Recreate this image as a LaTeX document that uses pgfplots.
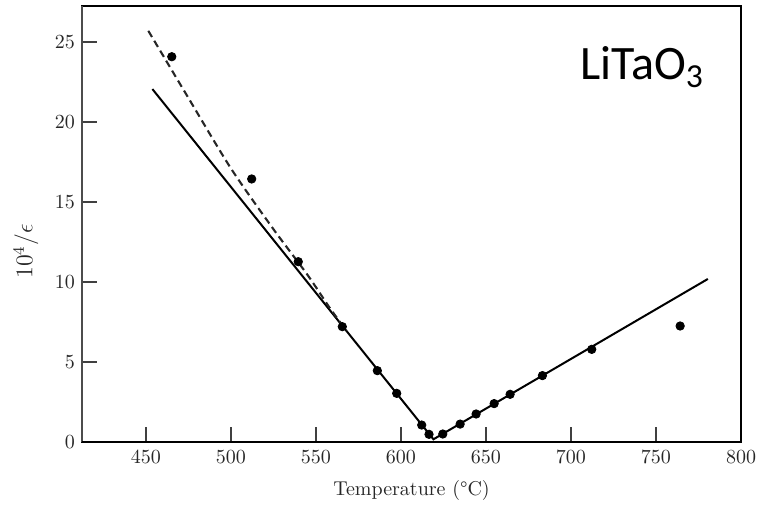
\documentclass[border=0pt]{standalone}
\usepackage{fontspec}
\newfontfamily\calibri{Carlito}
\usepackage{pgfplots}
\pgfplotsset{compat=1.18}

\begin{document}
\begin{tikzpicture}
\begin{axis}[
    scale only axis,
    width=329.5pt, height=218pt,
    xmin=412.4, xmax=800,
    ymin=0, ymax=27.25,
    xtick={450,500,...,800},
    ytick={0,5,...,25},
    tick align=inside,
    xtick pos=bottom, ytick pos=left,
    major tick length=7.5pt,
    tick style={black!75, line width=0.6pt},
    axis line style={line width=0.6pt},
    ticklabel style={font=\normalsize, black!85},
    xticklabel style={yshift=-1pt},
    xlabel={Temperature (°C)},
    xlabel style={font=\normalsize, black!85, at={(axis description cs:0.5,-0.112)}, anchor=center},
    ylabel={$10^4/\epsilon$},
    ylabel style={font=\fontsize{11.5}{13}\selectfont, black!85, at={(axis description cs:-0.085,0.437)}, anchor=center},
    clip=false,
]
% fitted lines
\addplot[black, line width=1pt] coordinates {(453.8,22.06) (619.1,0.17) (780.5,10.19)};
\addplot[black!85, line width=1.05pt, dash pattern=on 3.6pt off 2.2pt, smooth] coordinates {
    (451.4,25.7) (475,21.5) (500,17.1) (525,13.3) (545,10.45) (558,8.4) (568,6.95)};
% measured points
\addplot[only marks, mark=*, mark size=2.1pt, black] coordinates {
    (465.2,24.08) (512.2,16.44) (539.6,11.27) (565.5,7.21) (586.1,4.46)
    (597.5,3.04) (612.2,1.06) (616.5,0.48) (624.6,0.50) (634.8,1.12)
    (644.2,1.75) (654.8,2.40) (664.2,2.98) (683.2,4.15) (712.2,5.79)
    (764.2,7.25)};
\node[font=\calibri\fontsize{24}{28}\selectfont, anchor=center] at (rel axis cs:0.85,0.86) {LiTaO\textsubscript{3}};
\end{axis}
\draw[black!70, line width=1.1pt] (current axis.south west) -- (current axis.north west);
\draw[black, line width=0.9pt] (current axis.south west) -- (current axis.south east);
\path ([xshift=-41pt,yshift=-30pt]current axis.south west) ([xshift=11pt,yshift=3pt]current axis.north east);
\end{tikzpicture}
\end{document}
